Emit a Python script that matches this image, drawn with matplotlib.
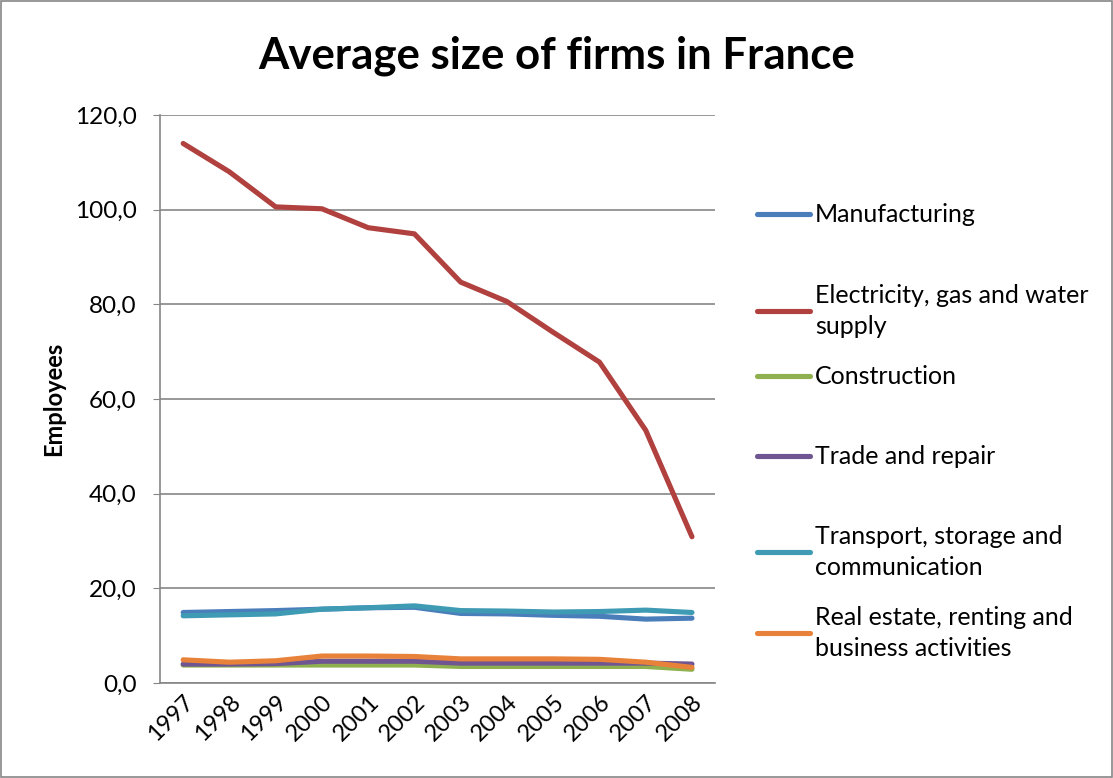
import numpy as np
import matplotlib.pyplot as plt
from matplotlib.lines import Line2D
from matplotlib.patches import Rectangle

plt.rcParams['font.family'] = ['Lato', 'DejaVu Sans']

years = ['1997', '1998', '1999', '2000', '2001', '2002',
         '2003', '2004', '2005', '2006', '2007', '2008']
manufacturing = [14.9, 15.1, 15.3, 15.6, 15.9, 16.0, 14.7, 14.6, 14.3, 14.1, 13.5, 13.7]
electricity = [114.0, 108.0, 100.6, 100.2, 96.2, 94.9, 84.7, 80.6, 74.1, 67.8, 53.4, 30.9]
construction = [3.8, 3.8, 3.8, 3.8, 3.8, 3.8, 3.5, 3.5, 3.5, 3.5, 3.5, 2.9]
trade = [4.0, 4.0, 4.1, 4.6, 4.6, 4.6, 4.2, 4.2, 4.2, 4.2, 4.2, 4.0]
transport = [14.2, 14.4, 14.6, 15.6, 15.9, 16.3, 15.3, 15.2, 15.0, 15.1, 15.4, 14.9]
real_estate = [4.9, 4.4, 4.7, 5.7, 5.7, 5.6, 5.1, 5.1, 5.1, 5.0, 4.4, 3.3]

labels = ['Manufacturing', 'Electricity, gas and water\nsupply', 'Construction',
          'Trade and repair', 'Transport, storage and\ncommunication',
          'Real estate, renting and\nbusiness activities']
series = [manufacturing, electricity, construction, trade, transport, real_estate]
colors = ['#4A7EBB', '#B0413E', '#8FB04E', '#6F5592', '#3F9BB3', '#E8823A']

fig = plt.figure(figsize=(11.13, 7.78), dpi=100)
ax = fig.add_axes([0.1438, 0.1221, 0.4987, 0.730])

x = np.arange(len(years))
for vals, c in zip(series, colors):
    ax.plot(x, vals, color=c, lw=3.7, solid_capstyle='round', solid_joinstyle='round')

ax.set_xlim(-0.5, len(years) - 0.5)
ax.set_ylim(0, 120)
ax.set_yticks(np.arange(0, 121, 20))
ax.set_yticklabels([f'{v:.1f}'.replace('.', ',') for v in np.arange(0, 121, 20)], fontsize=17.5)
ax.set_xticks(x)
ax.set_xticklabels(years, rotation=45, ha='right', va='top', fontsize=17,
                   rotation_mode='anchor')
ax.tick_params(axis='x', length=0, pad=6)
ax.tick_params(axis='y', length=5, color='#868686', pad=12)
ax.grid(axis='y', color='#868686', lw=1.2)
ax.set_axisbelow(True)
for s in ['top', 'right']:
    ax.spines[s].set_visible(False)
for s in ['left', 'bottom']:
    ax.spines[s].set_color('#868686')
    ax.spines[s].set_linewidth(1.2)

ax.set_ylabel('Employees', fontsize=17, fontweight='bold', labelpad=7)
fig.text(0.500, 0.928, 'Average size of firms in France', ha='center', va='center',
         fontsize=31.5, fontweight='bold')

# legend entries, placed like the Excel legend
leg_y = [214, 311, 376, 456, 552, 633]
for lab, c, yy in zip(labels, colors, leg_y):
    yf = 1 - yy / 778
    fig.add_artist(Line2D([757 / 1113, 810 / 1113], [yf, yf], color=c, lw=3.7,
                          solid_capstyle='round'))
    fig.text(815 / 1113, yf, lab, ha='left', va='center', fontsize=18,
             linespacing=1.4)

fig.add_artist(Rectangle((0.001, 0.001), 0.998, 0.998, transform=fig.transFigure,
                         fill=False, edgecolor='#868686', lw=1.2))

fig.savefig('out.png', dpi=100)
